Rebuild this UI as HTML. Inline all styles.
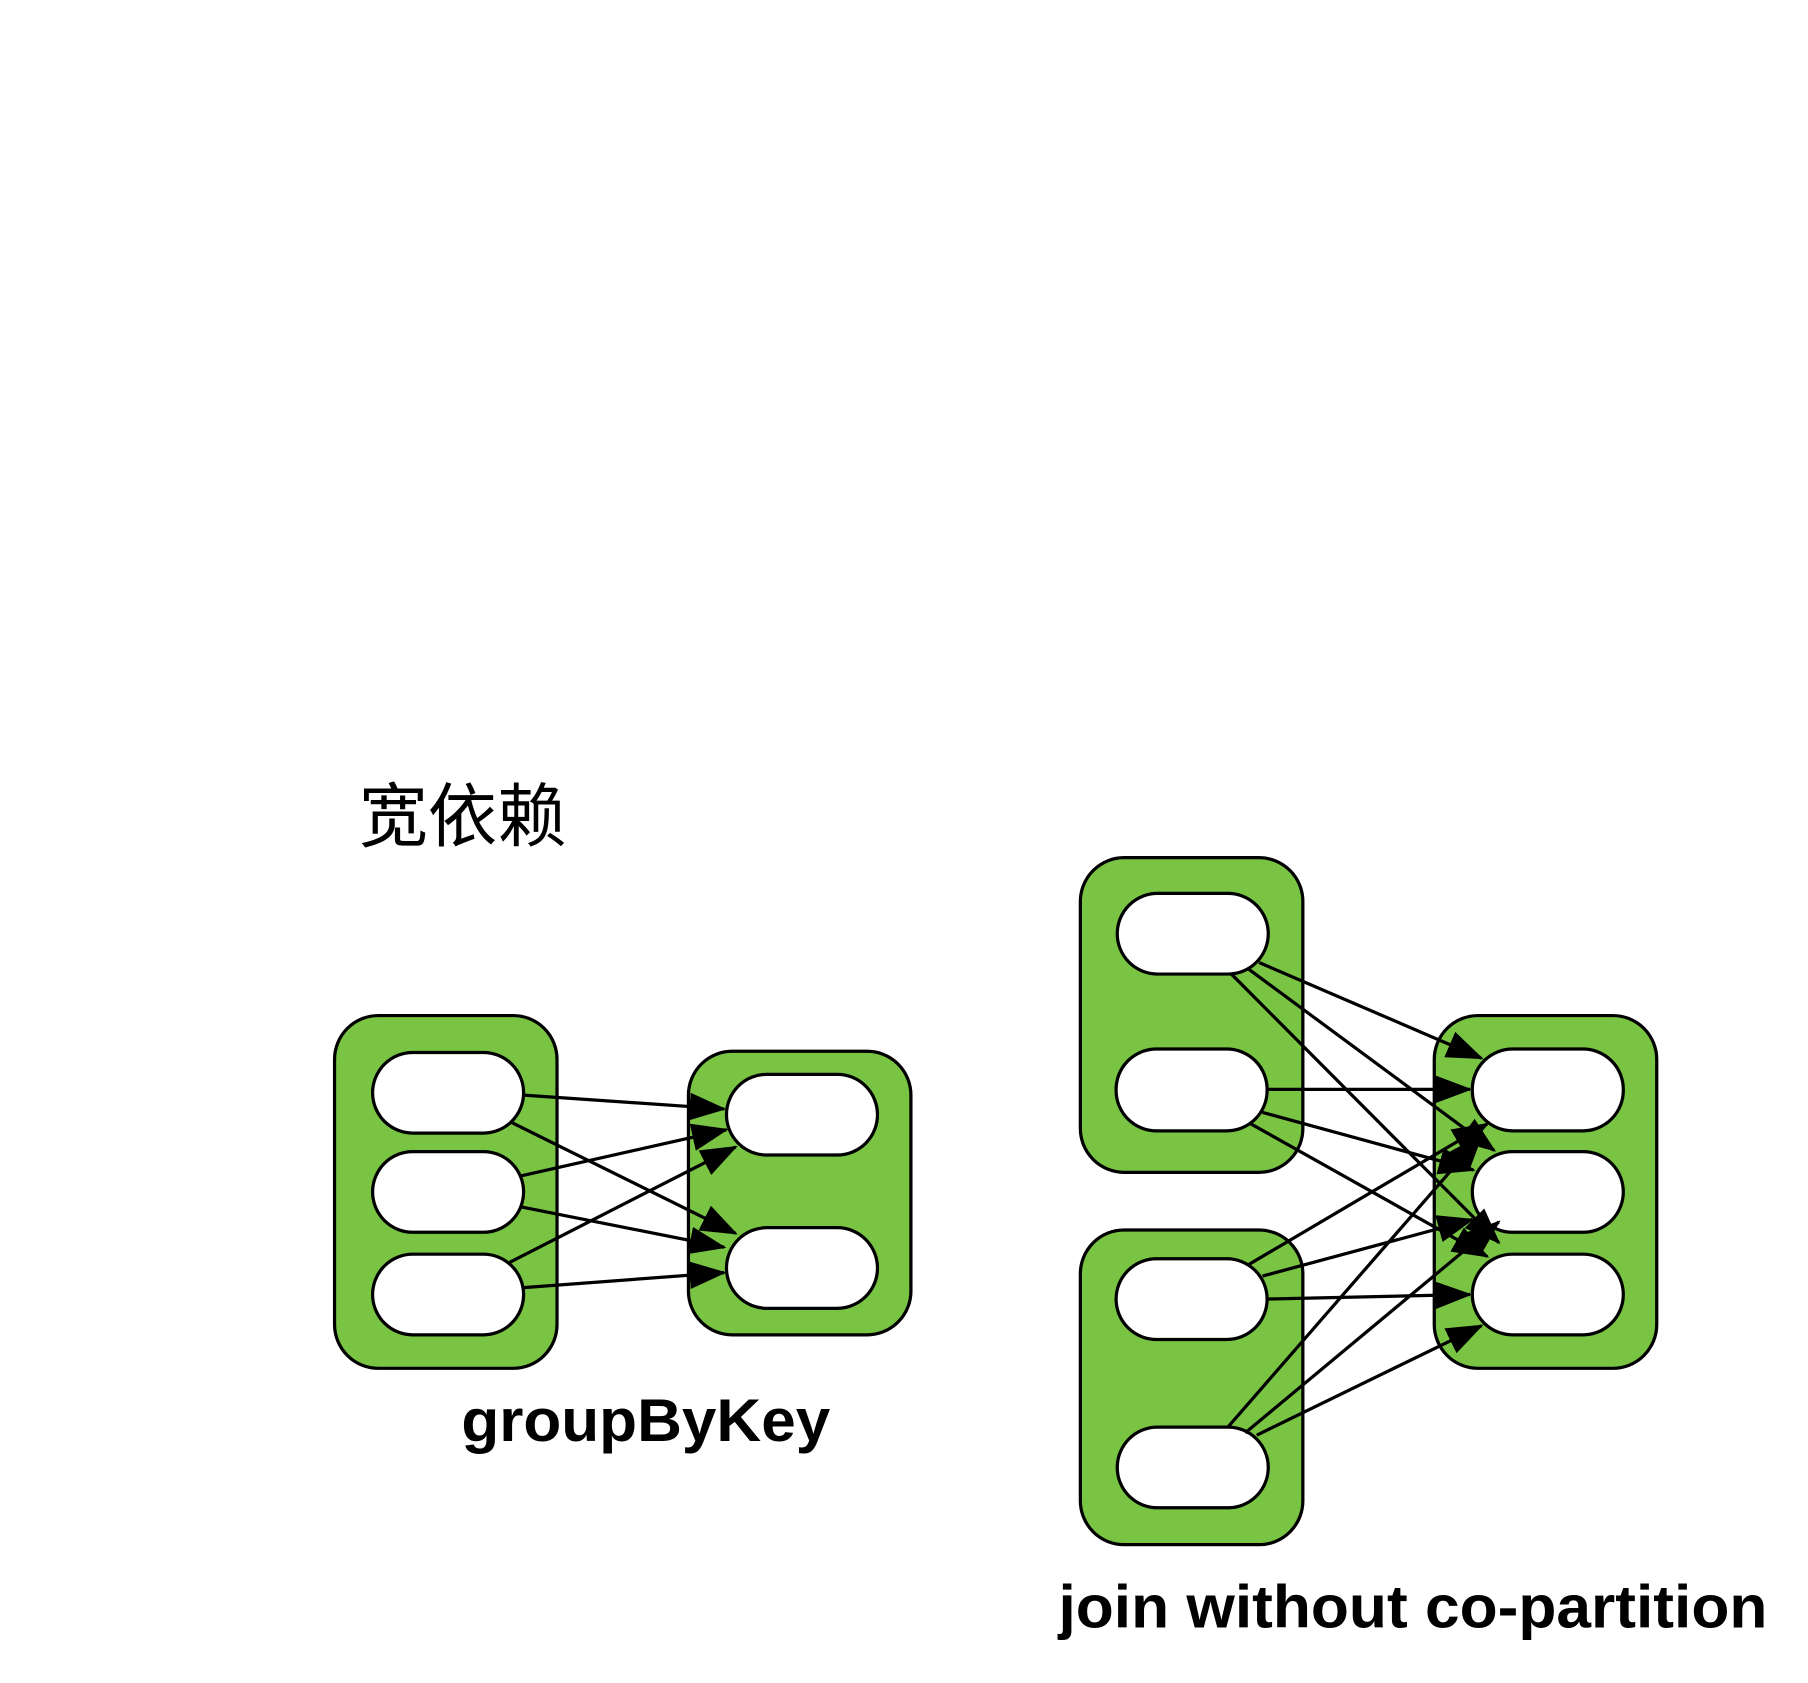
<!DOCTYPE html>
<html><head><meta charset="utf-8"><style>html,body{margin:0;padding:0;background:#fff}svg{display:block}</style></head>
<body>
<svg width="1808" height="1683" viewBox="0 0 1568 1460" xmlns="http://www.w3.org/2000/svg">
<defs>
<marker id="a" markerUnits="userSpaceOnUse" markerWidth="32" markerHeight="24" refX="30" refY="12" orient="auto">
<path d="M0,0 L32,12 L0,24 Z" fill="#000"/>
</marker>
</defs>
<rect width="1568" height="1460" fill="#fff"/>
<text x="311" y="729" font-family="'Noto Sans CJK SC','WenQuanYi Zen Hei',sans-serif" font-size="60" fill="#000">宽依赖</text>
<g fill="#7ac444" stroke="#000" stroke-width="2.8">
<rect x="290" y="881" width="193" height="306" rx="38"/>
<rect x="597" y="912" width="193" height="246" rx="38"/>
<rect x="937" y="744" width="193" height="273" rx="38"/>
<rect x="937" y="1067" width="193" height="273" rx="38"/>
<rect x="1244" y="881" width="193" height="306" rx="38"/>
</g>
<g fill="#fff" stroke="#000" stroke-width="2.8">
<rect x="323" y="913" width="131" height="70" rx="35"/>
<rect x="323" y="999" width="131" height="70" rx="35"/>
<rect x="323" y="1088" width="131" height="70" rx="35"/>
<rect x="630" y="932" width="131" height="70" rx="35"/>
<rect x="630" y="1065" width="131" height="70" rx="35"/>
<rect x="969" y="775" width="131" height="70" rx="35"/>
<rect x="968" y="910" width="131" height="71" rx="35"/>
<rect x="968" y="1092" width="131" height="70" rx="35"/>
<rect x="969" y="1238" width="131" height="70" rx="35"/>
<rect x="1277" y="910" width="131" height="71" rx="35"/>
<rect x="1277" y="999" width="131" height="70" rx="35"/>
<rect x="1277" y="1088" width="131" height="70" rx="35"/>
</g>
<g stroke="#000" stroke-width="2.8" marker-end="url(#a)" fill="none">
<line x1="454" y1="950" x2="628" y2="962"/>
<line x1="442" y1="973" x2="638" y2="1070"/>
<line x1="452" y1="1020" x2="630" y2="980"/>
<line x1="452" y1="1047" x2="628" y2="1082"/>
<line x1="442" y1="1095" x2="638" y2="995"/>
<line x1="454" y1="1117" x2="628" y2="1104"/>
<line x1="1092" y1="835" x2="1285" y2="918"/>
<line x1="1082" y1="840" x2="1296" y2="998"/>
<line x1="1068" y1="845" x2="1300" y2="1078"/>
<line x1="1098" y1="945" x2="1275" y2="945"/>
<line x1="1095" y1="965" x2="1278" y2="1015"/>
<line x1="1085" y1="975" x2="1290" y2="1090"/>
<line x1="1083" y1="1097" x2="1290" y2="975"/>
<line x1="1095" y1="1107" x2="1277" y2="1058"/>
<line x1="1098" y1="1127" x2="1275" y2="1123"/>
<line x1="1065" y1="1238" x2="1285" y2="985"/>
<line x1="1080" y1="1243" x2="1300" y2="1060"/>
<line x1="1090" y1="1245" x2="1285" y2="1150"/>
</g>
<text x="400" y="1250" font-family="'Liberation Sans',sans-serif" font-size="52" font-weight="bold" textLength="320" lengthAdjust="spacingAndGlyphs">groupByKey</text>
<text x="918" y="1412" font-family="'Liberation Sans',sans-serif" font-size="52" font-weight="bold" textLength="615" lengthAdjust="spacingAndGlyphs">join without co-partition</text>
</svg>
</body></html>
